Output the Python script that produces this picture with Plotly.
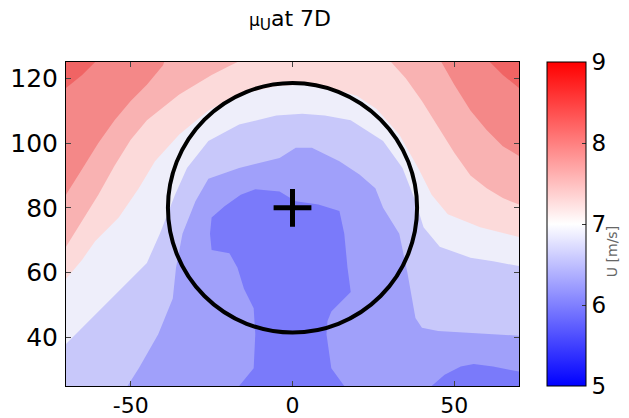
import plotly.graph_objects as go

# ---- band boundaries (x, y in m) ----
# each arch boundary runs left->right; the region above it belongs to the faster band
b12 = [(-75, 20), (-51, 20), (-51, 25), (-47.5, 30.5), (-41.5, 41), (-37, 52), (-36, 61.5),
       (-34, 72), (-30, 82), (-26, 89), (-16.5, 92.3), (-4, 95.4), (1, 98.5), (6, 98.5),
       (14.5, 94.4), (20.7, 90.3), (25.6, 86), (28, 80), (33, 72), (35.5, 60), (38, 46),
       (40, 43), (45, 42), (55, 41.5), (62, 41), (70, 40.5), (75, 40.5)]
b23 = [(-75, 38), (-70, 38), (-65, 43), (-60, 48), (-55, 53), (-50, 58), (-45, 63), (-41, 72),
       (-38, 80), (-36.3, 84), (-32.6, 92.3), (-26, 100.6), (-16.5, 105.7), (-5, 108.5),
       (3, 109), (10, 108.5), (18, 107), (28, 100.6), (34, 92.3), (38, 82), (40.5, 74),
       (45.5, 68), (55, 64.6), (62, 63.5), (70, 62), (75, 62)]
b34 = [(-75, 58), (-70, 58), (-65, 64), (-61, 69.7), (-53.7, 77), (-47.5, 86), (-42.5, 94.4),
       (-35, 102.6), (-26, 110), (-16.5, 115), (-5, 117.5), (3, 118), (10, 117.5), (20, 114.5),
       (26, 110.5), (33, 102.6), (39, 92), (43, 84), (48, 78), (58, 74), (70, 71), (75, 71)]
b45 = [(-75, 68), (-70, 68), (-65, 76), (-60, 84), (-55, 93), (-50, 101), (-45, 107), (-40, 111),
       (-35, 115), (-30, 118), (-25, 121), (-20, 123.5), (-16, 125.5), (-14, 130), (28, 130),
       (30, 125.5), (35, 120), (40, 113), (45, 105), (50, 97), (55, 90), (60, 86), (65, 83),
       (70, 81), (75, 81)]
b56 = [(-75, 84), (-70, 84), (-65, 92), (-60, 100), (-55, 107), (-50, 113), (-45, 118), (-40, 124),
       (-38, 130), (44, 130), (46, 125), (50, 118), (55, 110), (60, 104), (65, 99), (70, 96), (75, 96)]
b67 = [(-75, 117), (-70, 117), (-65, 121), (-61, 125), (-60, 130), (60, 130), (61, 125),
       (65, 121), (70, 117), (75, 117)]
# slowest band: central wake core and a patch in the lower-right corner (closed outlines)
core = [(-16.5, 20), (-16.5, 25), (-12, 30.5), (-11.5, 41), (-12, 49), (-15, 55), (-17, 61.5),
        (-19.5, 66), (-25, 67), (-25.5, 72), (-25, 77), (-21, 80.5), (-16, 84), (-11.5, 85.7),
        (-4, 85), (1, 82), (8, 81), (14.5, 79), (16, 72), (17, 61.5), (18, 54), (12, 48),
        (10.8, 45), (10.5, 41), (12, 30.5), (16, 25), (16, 20)]
patch = [(43, 20), (43, 25), (47, 28.5), (52, 31), (56, 31.8), (62, 31), (67, 30), (70, 29.5),
         (75, 29.5), (75, 20)]

band_colors = ["#7a7afa", "#a0a0fa", "#c8c8fa", "#eeeefa",
               "#fcdada", "#f9b2b2", "#f48888", "#f06464"]

# rotor disc
hub_x, hub_y = 0, 80
rotor_radius = 38.5

# axes / colorbar
x_range = [-70, 70]
y_range = [25, 125]
x_ticks = [-50, 0, 50]
x_ticktext = ["-50", "0", "50"]
y_ticks = [40, 60, 80, 100, 120]
cbar_min, cbar_max = 5, 9
cbar_ticks = [5, 6, 7, 8, 9]

FONT = "DejaVu Sans"
X_LO, X_HI, Y_LO, Y_HI = -75, 75, 20, 130

fig = go.Figure()


def add_poly(xs, ys, color):
    fig.add_trace(go.Scatter(x=xs, y=ys, mode="lines", fill="toself", fillcolor=color,
                             line=dict(width=0, color=color), hoverinfo="skip",
                             showlegend=False))


# base band (band 1) over the whole field
add_poly([X_LO, X_HI, X_HI, X_LO], [Y_LO, Y_LO, Y_HI, Y_HI], band_colors[1])
# faster bands stacked on top
for k, b in enumerate([b12, b23, b34, b45, b56, b67], start=2):
    add_poly([p[0] for p in b] + [X_HI, X_LO], [p[1] for p in b] + [Y_HI, Y_HI], band_colors[k])
# slowest band
for outline in (core, patch):
    add_poly([p[0] for p in outline], [p[1] for p in outline], band_colors[0])

# continuous colorbar
fig.add_trace(go.Scatter(
    x=[hub_x], y=[hub_y], mode="markers",
    marker=dict(size=1, color=[7], cmin=cbar_min, cmax=cbar_max,
                colorscale=[[0, "rgb(0,0,255)"], [0.5, "rgb(255,255,255)"], [1, "rgb(255,0,0)"]],
                showscale=True,
                colorbar=dict(x=1.062, xanchor="left", xpad=0, y=0.5, yanchor="middle",
                              len=1, lenmode="fraction", ypad=0, thickness=39,
                              outlinewidth=1, outlinecolor="black",
                              tickvals=cbar_ticks, ticks="inside", ticklen=4,
                              tickcolor="#333333",
                              tickfont=dict(size=23, color="black", family=FONT))),
    hoverinfo="skip", showlegend=False,
))

# hub marker
fig.add_trace(go.Scatter(
    x=[hub_x], y=[hub_y], mode="markers",
    marker=dict(symbol="cross-thin", size=27, line=dict(width=5, color="black")),
    hoverinfo="skip", showlegend=False,
))

fig.add_shape(type="circle", xref="x", yref="y",
              x0=hub_x - rotor_radius, x1=hub_x + rotor_radius,
              y0=hub_y - rotor_radius, y1=hub_y + rotor_radius,
              line=dict(color="black", width=4))

fig.add_annotation(text="U [m/s]", xref="paper", yref="paper",
                   x=1.228, y=0.414, textangle=-90, showarrow=False,
                   font=dict(size=14, color="#666666", family=FONT))

fig.update_layout(
    width=629, height=418,
    margin=dict(l=66, r=110, t=62, b=32, autoexpand=False),
    paper_bgcolor="white", plot_bgcolor="white",
    showlegend=False,
    title=dict(text='<span style="font-size:17px">μ</span><sub>U</sub>at 7D',
               x=0.461, xanchor="center", y=0.957, yanchor="middle",
               font=dict(size=22, color="black", family=FONT)),
    font=dict(family=FONT, color="black"),
)
fig.update_xaxes(range=x_range, tickvals=x_ticks, ticktext=x_ticktext,
                 ticks="inside", ticklen=5, automargin=False, ticklabelstandoff=0,
                 showline=True, linecolor="black", linewidth=1, mirror="ticks",
                 showgrid=False, zeroline=False, tickfont=dict(size=22, family=FONT))
fig.update_yaxes(range=y_range, tickvals=y_ticks, ticks="inside", ticklen=5,
                 automargin=False, ticklabelstandoff=2,
                 showline=True, linecolor="black", linewidth=1, mirror="ticks",
                 showgrid=False, zeroline=False, tickfont=dict(size=25, family=FONT))

fig.write_html("out.html")
